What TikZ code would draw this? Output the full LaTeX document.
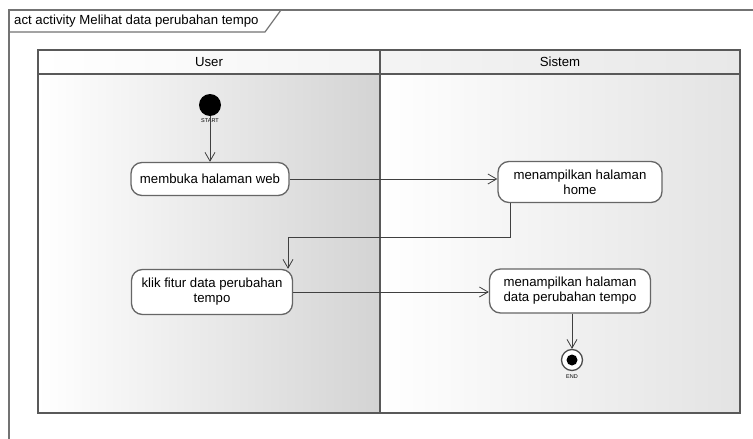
\documentclass[tikz,border=0pt]{standalone}
\usepackage{fontspec}
\setmainfont{Liberation Sans}
\usetikzlibrary{arrows.meta,positioning,calc}

\tikzset{
  laneLine/.style={draw=black!65, line width=1.6pt},
  actionBox/.style={draw=black!60, line width=1.3pt, rounded corners=11pt, fill=white, align=center, minimum height=33pt, inner sep=2pt},
  flowLine/.style={draw=black!75, line width=0.8pt, ->}
}

\begin{document}
\begin{tikzpicture}[x=1pt,y=-1pt,>={Straight Barb[angle=60:10pt]},font=\fontsize{13.2}{15}\selectfont]
    \useasboundingbox (0,0) rectangle (753,439);
    \fill[white] (0,0) rectangle (753,439);

    % frame
    \draw[black!55, line width=1.2pt] (753,10) -- (9,10) -- (9,439);
    \draw[black!55, line width=1.2pt] (9,32) -- (265,32) -- (281,10);
    \node[anchor=west, inner sep=0pt] (frameTitle) at (14,21) {act activity Melihat data perubahan tempo};

    % swimlanes
    \shade[left color=white, right color=black!17] (38,74) rectangle (380,413);
    \shade[left color=white, right color=black!11] (380,74) rectangle (740,413);
    \shade[left color=white, right color=black!9] (38,50) rectangle (740,74);
    \draw[laneLine] (38,50) rectangle (740,413);
    \draw[laneLine] (38,74) -- (740,74);
    \draw[laneLine] (380,50) -- (380,413);
    \node (userLane) at (209,62) {User};
    \node (sistemLane) at (560,62) {Sistem};

    \coordinate (startPos) at (210,105);
    \coordinate (webPos) at (210,179);
    \coordinate (homePos) at (580,182);
    \coordinate (klikPos) at (212,292);
    \coordinate (dataPos) at (570,291);
    \coordinate (endPos) at (572,360);

    \node[circle, fill=black, minimum size=22pt, inner sep=0pt] (startNode) at (startPos) {};
    \node[below=2pt of startNode, inner sep=0pt, font=\fontsize{5.5}{6}\selectfont] (startLabel) {START};

    \node[actionBox, minimum width=158pt] (webNode) at (webPos) {membuka halaman web};
    \node[actionBox, minimum width=164pt, minimum height=41pt] (homeNode) at (homePos) {menampilkan halaman\\home};
    \node[actionBox, minimum width=161pt, minimum height=45pt] (klikNode) at (klikPos) {klik fitur data perubahan\\tempo};
    \node[actionBox, minimum width=161pt, minimum height=44pt] (dataNode) at (dataPos) {menampilkan halaman\\data perubahan tempo};

    \node[circle, draw=black!70, line width=1.3pt, fill=white, minimum size=21pt, inner sep=0pt] (endNode) at (endPos) {};
    \fill[black] (endNode.center) circle (5.5pt);
    \node[below=3pt of endNode, inner sep=0pt, font=\fontsize{5.5}{6}\selectfont] (endLabel) {END};

    \draw[flowLine] (startNode) -- (webNode);
    \draw[flowLine] (webNode.east) -- (webNode.east -| homeNode.west);
    \draw[flowLine] ([xshift=-70pt]homeNode.south) -- ++(0,34) -| ([xshift=76pt]klikNode.north);
    \draw[flowLine] (klikNode.east) -- (klikNode.east -| dataNode.west);
    \draw[flowLine] (dataNode.south -| endNode) -- (endNode);

  \end{tikzpicture}
\end{document}
